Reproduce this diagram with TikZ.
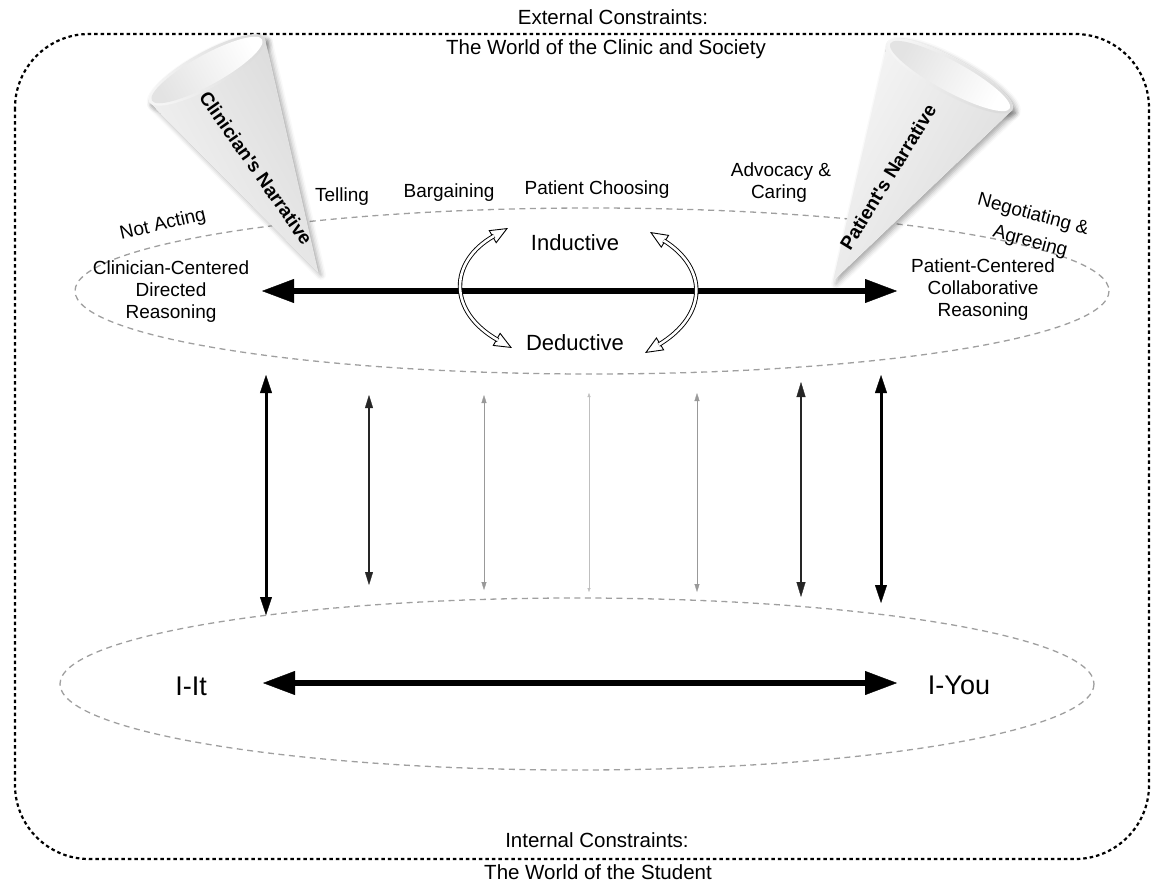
\documentclass[tikz,border=0pt]{standalone}
\usepackage{fontspec}
\setmainfont{Liberation Sans}
\usetikzlibrary{arrows.meta,shadows.blur}

\begin{document}
\begin{tikzpicture}[x=1pt,y=-1pt,
  lbl/.style={font=\fontsize{19}{22}\selectfont, align=center, inner sep=0pt},
  title/.style={font=\fontsize{20.5}{24}\selectfont, align=center, inner sep=0pt},
  mode/.style={font=\fontsize{22}{26}\selectfont, inner sep=0pt},
  pole/.style={font=\fontsize{27}{30}\selectfont, inner sep=0pt},
  conetext/.style={font=\bfseries\fontsize{19}{22}\selectfont, inner sep=0pt},
  frame/.style={line width=2.2pt, dash pattern=on 3.5pt off 3pt},
  zone/.style={gray!75, line width=1.3pt, dash pattern=on 6pt off 4.5pt},
  mainarrow/.style={line width=6pt, draw=black,
    {Triangle[length=32pt,width=24pt,line width=0.4pt,fill=black,color=black]}-{Triangle[length=32pt,width=24pt,line width=0.4pt,fill=black,color=black]}},
  link/.style args={#1/#2/#3/#4}{line width=#1, draw=#2, fill=#2,
    {Triangle[length=#3,width=#4,line width=0.3pt]}-{Triangle[length=#3,width=#4,line width=0.3pt]}},
  hollowtips/.style={line width=0.9pt,
    {Triangle[fill=white,length=18pt,width=15pt]}-{Triangle[fill=white,length=18pt,width=15pt]}},
  hollowshaft/.style={line width=0.9pt, double=white, double distance=2.6pt,
    shorten <=16pt, shorten >=16pt},
  conebody/.style={left color=gray!8, middle color=gray!48, right color=gray!28},
  coneface/.style={left color=gray!22, right color=white},
  coneshadow/.style={fill=white, blur shadow={shadow xshift=3pt, shadow yshift=-3pt,
    shadow blur radius=5pt, shadow opacity=35}}
]
\useasboundingbox (0,0) rectangle (1153,883);

% outer frame and its two captions
\draw[frame, rounded corners=74pt] (15,34) rectangle (1149,859);
\node[title] (ext1) at (613,17) {External Constraints:};
\node[title] (ext2) at (606,49) {The World of the Clinic and Society};
\node[title] (int1) at (597,840) {Internal Constraints:};
\node[title] (int2) at (598,872) {The World of the Student};

% the two zones
\draw[zone] (592,291) ellipse [x radius=517, y radius=83];
\draw[zone] (577,684) ellipse [x radius=517, y radius=86];

% clinician's narrative cone
\coordinate (capex) at (318,272);
\coordinate (cA) at (149.3,102);
\coordinate (cB) at (264.7,38);
\path[coneshadow] (capex) -- (cA) -- (cB) -- cycle;
\path[coneshadow] (207,70) circle [x radius=66, y radius=18, rotate=29];
\shade[conebody, shading angle=119] (capex) -- (cA) -- (cB) -- cycle;
\shade[conebody, shading angle=119] (207,70) circle [x radius=66, y radius=18, rotate=29];
\shade[coneface, shading angle=119] (207,70) circle [x radius=63, y radius=15, rotate=29];
\node[conetext, rotate=-55] (cnar) at (256,168) {Clinician\textquotesingle s Narrative};

% patient's narrative cone
\coordinate (papex) at (833,281);
\coordinate (pA) at (887.7,42);
\coordinate (pB) at (1012.3,110);
\path[coneshadow] (papex) -- (pA) -- (pB) -- cycle;
\path[coneshadow] (950,76) circle [x radius=71, y radius=18, rotate=-28.6];
\shade[conebody, shading angle=61] (papex) -- (pA) -- (pB) -- cycle;
\shade[conebody, shading angle=61] (950,76) circle [x radius=71, y radius=18, rotate=-28.6];
\shade[coneface, shading angle=61] (950,76) circle [x radius=68, y radius=15, rotate=-28.6];
\node[conetext, rotate=58.5] (pnar) at (888,177) {Patient\textquotesingle s Narrative};

% styles of the encounter
\node[lbl, rotate=13] (notact) at (163,225) {Not Acting};
\node[lbl] (tell) at (342,197) {Telling};
\node[lbl] (barg) at (449,193) {Bargaining};
\node[lbl] (choose) at (597,190) {Patient Choosing};
\node[lbl] (adv1) at (781,172) {Advocacy \&};
\node[lbl] (adv2) at (779,194) {Caring};
\node[lbl, rotate=-15] (neg1) at (1033,215) {Negotiating \&};
\node[lbl, rotate=-15] (neg2) at (1030,242) {Agreeing};

% reasoning poles
\node[lbl] (ccl) at (171,292) {Clinician-Centered\\Directed\\Reasoning};
\node[lbl] (pcl) at (983,290) {Patient-Centered\\Collaborative\\Reasoning};
\node[mode] (ind) at (575,243) {Inductive};
\node[mode] (ded) at (575,343) {Deductive};
\coordinate (rl) at (262,291);
\coordinate (rr) at (897,291);
\draw[mainarrow] (rl) -- (rr);

% inductive / deductive cycling arrows
\coordinate (h1a) at (508,228);
\coordinate (h1b) at (512,348);
\coordinate (h2a) at (650,232);
\coordinate (h2b) at (645,353);
\draw[hollowtips] (h1a) .. controls (448,262) and (448,312) .. (h1b);
\draw[hollowshaft] (h1a) .. controls (448,262) and (448,312) .. (h1b);
\draw[hollowtips] (h2a) .. controls (708,268) and (708,315) .. (h2b);
\draw[hollowshaft] (h2a) .. controls (708,268) and (708,315) .. (h2b);

% relational poles
\node[pole] (iit) at (191,686) {I-It};
\node[pole] (iyou) at (959,685) {I-You};
\coordinate (ll) at (263,683);
\coordinate (lr) at (897,683);
\draw[mainarrow] (ll) -- (lr);

% links between the two zones
\coordinate (v1t) at (266,375);   \coordinate (v1b) at (266,615);
\coordinate (v2t) at (369,395);   \coordinate (v2b) at (369,585);
\coordinate (v3t) at (484,395);   \coordinate (v3b) at (484,590);
\coordinate (v4t) at (589,393);   \coordinate (v4b) at (589,592);
\coordinate (v5t) at (697,393);   \coordinate (v5b) at (697,592);
\coordinate (v6t) at (801,382);   \coordinate (v6b) at (801,597);
\coordinate (v7t) at (881,375);   \coordinate (v7b) at (881,603);
\draw[link=3pt/black/18pt/12pt] (v1t) -- (v1b);
\draw[link=1.5pt/black!85/13pt/8pt] (v2t) -- (v2b);
\draw[link=0.9pt/gray!80/8pt/5pt] (v3t) -- (v3b);
\draw[link=0.6pt/gray!50/4pt/3pt] (v4t) -- (v4b);
\draw[link=0.9pt/gray!80/8pt/5pt] (v5t) -- (v5b);
\draw[link=1.6pt/black!85/15pt/9pt] (v6t) -- (v6b);
\draw[link=3pt/black/18pt/12pt] (v7t) -- (v7b);
\end{tikzpicture}
\end{document}
